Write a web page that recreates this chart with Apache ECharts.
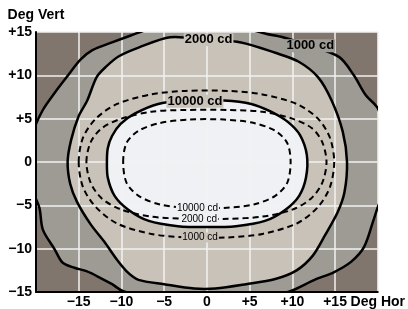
<!DOCTYPE html>
<html>
<head>
<meta charset="utf-8">
<script src="https://cdn.jsdelivr.net/npm/echarts@6/dist/echarts.min.js"></script>
<style>
html, body { margin: 0; padding: 0; background: #fff; }
#chart { width: 408px; height: 309px; }
</style>
</head>
<body>
<div id="chart"></div>
<script>
// isocandela contours, [deg hor, deg vert]
var solid1000 = [[-20.8, 0], [-20.3, 3.5], [-19.2, 6], [-17.8, 8], [-16.4, 9.8], [-14.8, 11.8], [-13.4, 12.9],
    [-11.1, 13.8], [-8.9, 14.6], [-6.5, 15.4], [-2, 16.0], [2, 16.0], [5, 15.3], [6.9, 14.8], [8.9, 14.4], [12.1, 13.4],
    [15.5, 12.1], [17.2, 10], [18.6, 7.7], [20, 6.2], [21, 3], [21.3, 0], [20.9, -3], [20, -5.2], [19.5, -6.7],
    [18.4, -9.8], [16.9, -11.5], [14.9, -12.7], [12.6, -13.6], [9.5, -15], [5, -16], [0, -16.4], [-5, -16],
    [-9.8, -14.9], [-11.1, -14.1], [-12.6, -13.3], [-14.1, -12.6], [-15.5, -12.2], [-16.9, -11.6], [-17.8, -10.1],
    [-19.2, -7.8], [-19.6, -5.3], [-20.5, -3]];
var solid2000 = [[0, 14.1], [4, 13.8], [8, 12.6], [10.7, 11.6], [13, 9.8], [14.6, 7.1], [15.9, 3.5], [16.4, 0],
    [16.1, -3.5], [15.3, -5.8], [13.8, -8.5], [12.4, -10.8], [10.5, -12.5], [8, -13.5], [4.6, -14.1], [1, -14.6],
    [-1.5, -14.6], [-5, -14.1], [-8, -13.6], [-9.2, -12.8], [-10.5, -11.3], [-12, -9.2], [-13.6, -7.2], [-15.2, -4.6],
    [-16, -2.5], [-16.3, 0], [-15.9, 2.5], [-15, 5.3], [-14, 7.1], [-12.9, 9.8], [-11.8, 11], [-10.3, 12.2],
    [-8, 13.2], [-4.3, 14.4]];
var solid10000 = [[-11.7, 0], [-11.6, 1.6], [-11.1, 3.0], [-10.1, 4.4], [-8.4, 5.6], [-5.7, 6.7], [-2.3, 7.1],
    [2, 7.1], [5.2, 6.7], [7.5, 5.8], [9.5, 4.6], [10.9, 3.1], [11.7, 0.8], [11.6, -1.8], [10.8, -3.9], [9.2, -5.5],
    [6.8, -6.8], [3.4, -7.4], [0, -7.5], [-3.4, -7.4], [-6.8, -6.8], [-9.2, -5.5], [-10.8, -3.9], [-11.6, -1.8]];
var dashed1000 = [[-15, 0], [-14.5, 2.8], [-13, 5.0], [-10.5, 6.7], [-6.5, 7.8], [-2.5, 8.2], [2.5, 8.2], [6.5, 7.8],
    [10.5, 6.7], [13, 5], [14.4, 2.8], [14.9, 0], [14.4, -2.9], [13, -5.2], [10.5, -7.1], [6.5, -8.3], [2.5, -8.7],
    [-2.5, -8.7], [-6.5, -8.3], [-10.5, -7.1], [-13, -5.2], [-14.5, -2.9]];
var dashed2000 = [[-14.1, 0], [-13.6, 2.3], [-12.3, 3.9], [-10, 5.0], [-6.5, 5.8], [-2.5, 6.0], [2.5, 6.0], [6.5, 5.8],
    [10, 5.0], [12.3, 3.9], [13.5, 2.3], [14.0, 0], [13.5, -2.4], [12.2, -4.2], [10, -5.5], [6.5, -6.3], [2.5, -6.55],
    [-2.5, -6.55], [-6.5, -6.3], [-10, -5.5], [-12.3, -4.2], [-13.6, -2.4]];
var dashed10000 = [[-9.8, 0], [-9.4, 2.2], [-8, 3.6], [-5.5, 4.5], [-2, 4.9], [2, 4.9], [5.5, 4.5], [8, 3.6],
    [9.4, 2.2], [9.8, 0], [9.4, -2.4], [8, -3.9], [5.5, -4.9], [2, -5.3], [-2, -5.3], [-5.5, -4.9], [-8, -3.9],
    [-9.4, -2.4]];

var labelText = ['2000 cd', '1000 cd', '10000 cd', '10000 cd', '2000 cd', '1000 cd'];
var labelPos = [[0.2, 14.1], [12.1, 13.4], [-1.4, 7.0], [-1.1, -5.3], [-0.9, -6.55], [-0.8, -8.7]];

var xMin = -20, xMax = 20, yMin = -15, yMax = 15, step = 5;

var cDark = '#80766e', cGray = '#9d9b93', cBeige = '#c9c2b9', cWhite = '#f0f1f4';
var axisFont = 'Liberation Sans, Arial, sans-serif';
var smooth = 0.3;

function toPx(pts, api) {
    return pts.map(function (p) { return api.coord(p); });
}

function signed(v) {
    if (v > 0) return '+' + v;
    if (v < 0) return '\u2212' + (-v);
    return '0';
}

var chart = echarts.init(document.getElementById('chart'));

var labelStyles = [
    { font: 'bold 13px ' + axisFont, bg: cBeige },
    { font: 'bold 13px ' + axisFont, bg: cGray },
    { font: 'bold 13px ' + axisFont, bg: cBeige },
    { font: '10px ' + axisFont, bg: cWhite },
    { font: '10px ' + axisFont, bg: cWhite },
    { font: '10px ' + axisFont, bg: cBeige }
];

var option = {
    animation: false,
    grid: { left: 36, right: 24, top: 32, bottom: 16, show: true, backgroundColor: cDark, borderWidth: 0 },
    xAxis: {
        type: 'value', min: xMin, max: xMax, interval: step, z: 3,
        axisLine: { onZero: false, lineStyle: { color: '#000', width: 2 } },
        axisTick: { show: false },
        splitLine: { lineStyle: { color: '#f2f2f2', width: 1.5 } },
        axisLabel: {
            margin: 3, color: '#000', fontWeight: 'bold', fontSize: 14, fontFamily: axisFont,
            formatter: function (v) {
                if (v === xMin) return '';
                if (v === xMax) return 'Deg Hor';
                return signed(v);
            }
        }
    },
    yAxis: {
        type: 'value', min: yMin, max: yMax, interval: step, z: 3,
        name: 'Deg Vert', nameGap: 10,
        nameTextStyle: { color: '#000', fontWeight: 'bold', fontSize: 14, fontFamily: axisFont },
        axisLine: { onZero: false, lineStyle: { color: '#000', width: 2 } },
        axisTick: { show: false },
        splitLine: { lineStyle: { color: '#f2f2f2', width: 1.5 } },
        axisLabel: {
            margin: 4, color: '#000', fontWeight: 'bold', fontSize: 14, fontFamily: axisFont,
            formatter: signed
        }
    },
    series: [
        {
            // filled bands
            type: 'custom', z: 2, clip: true, silent: true, data: [0],
            renderItem: function (params, api) {
                return {
                    type: 'group',
                    children: [
                        { type: 'polygon', shape: { points: toPx(solid1000, api), smooth: smooth }, style: { fill: cGray } },
                        { type: 'polygon', shape: { points: toPx(solid2000, api), smooth: smooth }, style: { fill: cBeige } },
                        { type: 'polygon', shape: { points: toPx(solid10000, api), smooth: smooth }, style: { fill: cWhite } }
                    ]
                };
            }
        },
        {
            // contour lines
            type: 'custom', z: 4, clip: true, silent: true, data: [0],
            renderItem: function (params, api) {
                var solid = { fill: 'none', stroke: '#000', lineWidth: 2.5 };
                var dash = { fill: 'none', stroke: '#000', lineWidth: 2, lineDash: [6, 4] };
                return {
                    type: 'group',
                    children: [
                        { type: 'polygon', shape: { points: toPx(solid1000, api), smooth: smooth }, style: solid },
                        { type: 'polygon', shape: { points: toPx(solid2000, api), smooth: smooth }, style: solid },
                        { type: 'polygon', shape: { points: toPx(solid10000, api), smooth: smooth }, style: solid },
                        { type: 'polygon', shape: { points: toPx(dashed1000, api), smooth: smooth }, style: dash },
                        { type: 'polygon', shape: { points: toPx(dashed2000, api), smooth: smooth }, style: dash },
                        { type: 'polygon', shape: { points: toPx(dashed10000, api), smooth: smooth }, style: dash }
                    ]
                };
            }
        },
        {
            // contour labels
            type: 'custom', z: 5, silent: true,
            data: labelPos.map(function (p, i) { return [p[0], p[1], i]; }),
            renderItem: function (params, api) {
                var i = api.value(2);
                var pt = api.coord([api.value(0), api.value(1)]);
                var st = labelStyles[i];
                return {
                    type: 'text', x: pt[0], y: pt[1],
                    style: {
                        text: labelText[i], font: st.font, fill: '#000',
                        align: 'center', verticalAlign: 'middle',
                        backgroundColor: st.bg, padding: [0, 1]
                    }
                };
            }
        }
    ]
};

chart.setOption(option);
</script>
</body>
</html>
